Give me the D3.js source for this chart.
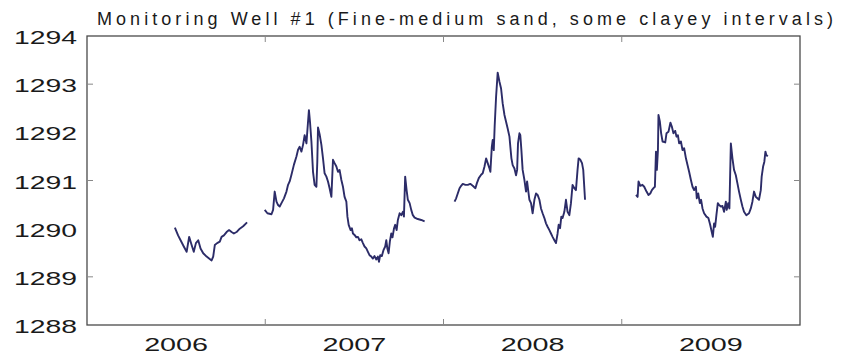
<!DOCTYPE html>
<html>
<head>
<meta charset="utf-8">
<script src="https://cdn.jsdelivr.net/npm/d3@7"></script>
<style>
  html, body { margin: 0; padding: 0; background: #fff; }
  svg { display: block; }
  text { font-family: "Liberation Sans", Arial, sans-serif; fill: #1a1a1a; }
</style>
</head>
<body>
<svg id="chart" width="846" height="356"></svg>
<script>
// Water level (m) at Monitoring Well #1, one series per logging season.
// Time is given as decimal years.
const yearTicks = [2006, 2007, 2008, 2009, 2010];
const yearLabels = ["2006", "2007", "2008", "2009"];
const levelTicks = [1288, 1289, 1290, 1291, 1292, 1293, 1294];
const tickMarks = [1289, 1291, 1293];

const season2006Time = [2006.493, 2006.511, 2006.525, 2006.543, 2006.559, 2006.573, 2006.587, 2006.599, 2006.611, 2006.624, 2006.637, 2006.652, 2006.671, 2006.685, 2006.699, 2006.708, 2006.717, 2006.730, 2006.745, 2006.755, 2006.768, 2006.783, 2006.797, 2006.811, 2006.824, 2006.839, 2006.857, 2006.876, 2006.898];
const season2006Level = [1290.02, 1289.86, 1289.76, 1289.63, 1289.52, 1289.83, 1289.66, 1289.52, 1289.70, 1289.76, 1289.59, 1289.49, 1289.42, 1289.38, 1289.34, 1289.42, 1289.66, 1289.70, 1289.73, 1289.83, 1289.86, 1289.93, 1289.97, 1289.93, 1289.90, 1289.93, 1290.00, 1290.05, 1290.13];

const season2007Time = [2006.997, 2007.012, 2007.035, 2007.044, 2007.053, 2007.063, 2007.072, 2007.081, 2007.091, 2007.105, 2007.119, 2007.128, 2007.137, 2007.147, 2007.161, 2007.175, 2007.184, 2007.193, 2007.203, 2007.212, 2007.221, 2007.231, 2007.240, 2007.245, 2007.251, 2007.259, 2007.268, 2007.277, 2007.287, 2007.292, 2007.296, 2007.305, 2007.315, 2007.324, 2007.333, 2007.343, 2007.352, 2007.361, 2007.371, 2007.380, 2007.389, 2007.399, 2007.408, 2007.417, 2007.427, 2007.436, 2007.445, 2007.455, 2007.461, 2007.468, 2007.479, 2007.486, 2007.492, 2007.501, 2007.511, 2007.520, 2007.529, 2007.539, 2007.548, 2007.557, 2007.567, 2007.576, 2007.585, 2007.595, 2007.604, 2007.613, 2007.623, 2007.632, 2007.638, 2007.645, 2007.654, 2007.664, 2007.673, 2007.679, 2007.685, 2007.692, 2007.699, 2007.707, 2007.714, 2007.722, 2007.729, 2007.737, 2007.744, 2007.754, 2007.763, 2007.772, 2007.778, 2007.785, 2007.793, 2007.800, 2007.810, 2007.819, 2007.828, 2007.838, 2007.856, 2007.875, 2007.894];
const season2007Level = [1290.39, 1290.32, 1290.30, 1290.39, 1290.77, 1290.56, 1290.49, 1290.46, 1290.53, 1290.63, 1290.77, 1290.91, 1290.98, 1291.12, 1291.33, 1291.50, 1291.64, 1291.70, 1291.60, 1291.74, 1291.94, 1291.77, 1292.22, 1292.46, 1292.22, 1291.81, 1291.18, 1290.91, 1290.87, 1291.39, 1292.10, 1291.96, 1291.74, 1291.46, 1291.15, 1291.08, 1290.98, 1290.84, 1290.66, 1291.43, 1291.36, 1291.29, 1291.18, 1291.22, 1291.01, 1290.87, 1290.66, 1290.56, 1290.25, 1290.08, 1289.97, 1290.01, 1289.90, 1289.87, 1289.82, 1289.83, 1289.76, 1289.78, 1289.70, 1289.63, 1289.59, 1289.52, 1289.45, 1289.42, 1289.38, 1289.43, 1289.36, 1289.42, 1289.31, 1289.45, 1289.43, 1289.56, 1289.63, 1289.76, 1289.59, 1289.49, 1289.73, 1289.90, 1289.82, 1290.00, 1290.08, 1289.97, 1290.18, 1290.32, 1290.28, 1290.35, 1290.25, 1291.08, 1290.80, 1290.60, 1290.53, 1290.39, 1290.28, 1290.23, 1290.20, 1290.18, 1290.15];

const season2008Time = [2008.062, 2008.071, 2008.080, 2008.090, 2008.099, 2008.108, 2008.123, 2008.136, 2008.150, 2008.164, 2008.179, 2008.187, 2008.198, 2008.211, 2008.220, 2008.230, 2008.239, 2008.248, 2008.258, 2008.263, 2008.271, 2008.276, 2008.282, 2008.287, 2008.295, 2008.304, 2008.314, 2008.323, 2008.332, 2008.342, 2008.351, 2008.360, 2008.370, 2008.375, 2008.381, 2008.388, 2008.398, 2008.407, 2008.413, 2008.418, 2008.426, 2008.431, 2008.437, 2008.444, 2008.454, 2008.463, 2008.469, 2008.476, 2008.482, 2008.491, 2008.500, 2008.510, 2008.519, 2008.528, 2008.538, 2008.547, 2008.556, 2008.566, 2008.575, 2008.584, 2008.594, 2008.603, 2008.612, 2008.622, 2008.631, 2008.640, 2008.646, 2008.654, 2008.661, 2008.668, 2008.678, 2008.687, 2008.696, 2008.706, 2008.715, 2008.724, 2008.734, 2008.743, 2008.752, 2008.758, 2008.768, 2008.777, 2008.784, 2008.794];
const season2008Level = [1290.56, 1290.63, 1290.73, 1290.84, 1290.89, 1290.93, 1290.91, 1290.91, 1290.93, 1290.89, 1290.84, 1290.94, 1291.05, 1291.12, 1291.15, 1291.29, 1291.46, 1291.36, 1291.25, 1291.18, 1291.70, 1291.84, 1291.63, 1292.12, 1292.74, 1293.24, 1293.05, 1292.91, 1292.60, 1292.36, 1292.22, 1292.08, 1291.91, 1291.70, 1291.46, 1291.32, 1291.25, 1291.11, 1291.22, 1291.77, 1291.98, 1291.94, 1291.63, 1291.22, 1291.01, 1290.77, 1290.98, 1290.77, 1290.60, 1290.53, 1290.32, 1290.60, 1290.73, 1290.70, 1290.60, 1290.42, 1290.32, 1290.22, 1290.11, 1290.04, 1289.97, 1289.90, 1289.83, 1289.76, 1289.70, 1289.90, 1290.08, 1290.01, 1290.25, 1290.22, 1290.35, 1290.60, 1290.35, 1290.28, 1290.53, 1290.91, 1290.84, 1290.80, 1291.22, 1291.46, 1291.43, 1291.36, 1291.22, 1290.60];

const season2009Time = [2009.080, 2009.089, 2009.094, 2009.104, 2009.116, 2009.126, 2009.139, 2009.150, 2009.160, 2009.169, 2009.178, 2009.186, 2009.192, 2009.197, 2009.203, 2009.206, 2009.214, 2009.221, 2009.229, 2009.244, 2009.251, 2009.262, 2009.273, 2009.281, 2009.290, 2009.300, 2009.307, 2009.315, 2009.322, 2009.332, 2009.341, 2009.350, 2009.360, 2009.369, 2009.378, 2009.388, 2009.397, 2009.406, 2009.416, 2009.421, 2009.429, 2009.438, 2009.445, 2009.453, 2009.462, 2009.475, 2009.486, 2009.496, 2009.505, 2009.511, 2009.518, 2009.524, 2009.531, 2009.539, 2009.546, 2009.556, 2009.565, 2009.574, 2009.584, 2009.589, 2009.597, 2009.604, 2009.612, 2009.621, 2009.630, 2009.640, 2009.649, 2009.658, 2009.668, 2009.677, 2009.686, 2009.699, 2009.714, 2009.724, 2009.733, 2009.742, 2009.752, 2009.761, 2009.770, 2009.780, 2009.785, 2009.793, 2009.800, 2009.806, 2009.811, 2009.819];
const season2009Level = [1290.70, 1290.66, 1290.98, 1290.89, 1290.91, 1290.87, 1290.77, 1290.70, 1290.73, 1290.80, 1290.84, 1290.87, 1291.60, 1291.22, 1291.63, 1292.36, 1292.22, 1291.98, 1291.81, 1291.79, 1291.98, 1292.01, 1292.20, 1292.12, 1291.98, 1292.03, 1291.91, 1291.94, 1291.77, 1291.81, 1291.63, 1291.67, 1291.46, 1291.32, 1291.18, 1291.01, 1290.87, 1290.80, 1290.87, 1290.63, 1290.73, 1290.53, 1290.60, 1290.42, 1290.32, 1290.25, 1290.22, 1290.08, 1289.93, 1289.83, 1290.11, 1290.04, 1290.28, 1290.53, 1290.49, 1290.46, 1290.47, 1290.35, 1290.56, 1290.39, 1290.53, 1290.42, 1291.77, 1291.46, 1291.22, 1291.11, 1290.94, 1290.77, 1290.60, 1290.46, 1290.35, 1290.28, 1290.32, 1290.42, 1290.56, 1290.77, 1290.66, 1290.63, 1290.60, 1290.80, 1291.08, 1291.29, 1291.39, 1291.60, 1291.53, 1291.50];

const seasons = [
  [season2006Time, season2006Level],
  [season2007Time, season2007Level],
  [season2008Time, season2008Level],
  [season2009Time, season2009Level]
];

const svg = d3.select("#chart");
const plot = { left: 87, right: 800, top: 36, bottom: 325 };

const x = d3.scaleLinear().domain([2006, 2010]).range([plot.left, plot.right]);
const y = d3.scaleLinear().domain([1288, 1294]).range([plot.bottom, plot.top]);

const frameColor = "#4a4a4a";
const tickLen = 6;

// Hydrograph lines
const line = d3.line()
  .x(d => x(d[0]))
  .y(d => y(d[1]));

svg.append("g")
  .selectAll("path")
  .data(seasons.map(([t, v]) => t.map((ti, i) => [ti, v[i]])))
  .join("path")
  .attr("d", line)
  .attr("fill", "none")
  .attr("stroke", "#2c2c68")
  .attr("stroke-width", 1.9)
  .attr("stroke-linejoin", "round");

// Axis frame
svg.append("rect")
  .attr("x", plot.left).attr("y", plot.top)
  .attr("width", plot.right - plot.left)
  .attr("height", plot.bottom - plot.top)
  .attr("fill", "none")
  .attr("stroke", frameColor)
  .attr("stroke-width", 1.3);

// Year boundary ticks, pointing inwards on top and bottom
const innerYears = yearTicks.slice(1, -1);
const ticks = svg.append("g").attr("stroke", "#888").attr("stroke-width", 1);
ticks.selectAll(".tx-b").data(innerYears).join("line")
  .attr("x1", d => x(d)).attr("x2", d => x(d))
  .attr("y1", plot.bottom).attr("y2", plot.bottom - tickLen);
ticks.selectAll(".tx-t").data(innerYears).join("line")
  .attr("x1", d => x(d)).attr("x2", d => x(d))
  .attr("y1", plot.top).attr("y2", plot.top + tickLen);

// Level ticks on both sides
ticks.selectAll(".ty-l").data(tickMarks).join("line")
  .attr("x1", plot.left).attr("x2", plot.left + tickLen)
  .attr("y1", d => y(d)).attr("y2", d => y(d));
ticks.selectAll(".ty-r").data(tickMarks).join("line")
  .attr("x1", plot.right).attr("x2", plot.right - tickLen)
  .attr("y1", d => y(d)).attr("y2", d => y(d));

// Level labels
svg.append("g")
  .selectAll("text")
  .data(levelTicks)
  .join("text")
  .attr("x", 77)
  .attr("y", d => y(d) + 8)
  .attr("text-anchor", "end")
  .attr("font-size", 19)
  .attr("textLength", 63)
  .attr("lengthAdjust", "spacingAndGlyphs")
  .text(d => d);

// Year labels centred in each year
svg.append("g")
  .selectAll("text")
  .data(yearLabels)
  .join("text")
  .attr("x", d => x(+d + 0.5))
  .attr("y", 351)
  .attr("text-anchor", "middle")
  .attr("font-size", 19)
  .attr("textLength", 64)
  .attr("lengthAdjust", "spacingAndGlyphs")
  .text(d => d);

// Title, letter-spaced across the top of the frame
svg.append("text")
  .attr("x", 97)
  .attr("y", 25)
  .attr("font-size", 18)
  .attr("fill", "#222")
  .attr("textLength", 736)
  .attr("lengthAdjust", "spacing")
  .text("Monitoring Well #1  (Fine-medium sand, some clayey intervals)");
</script>
</body>
</html>
